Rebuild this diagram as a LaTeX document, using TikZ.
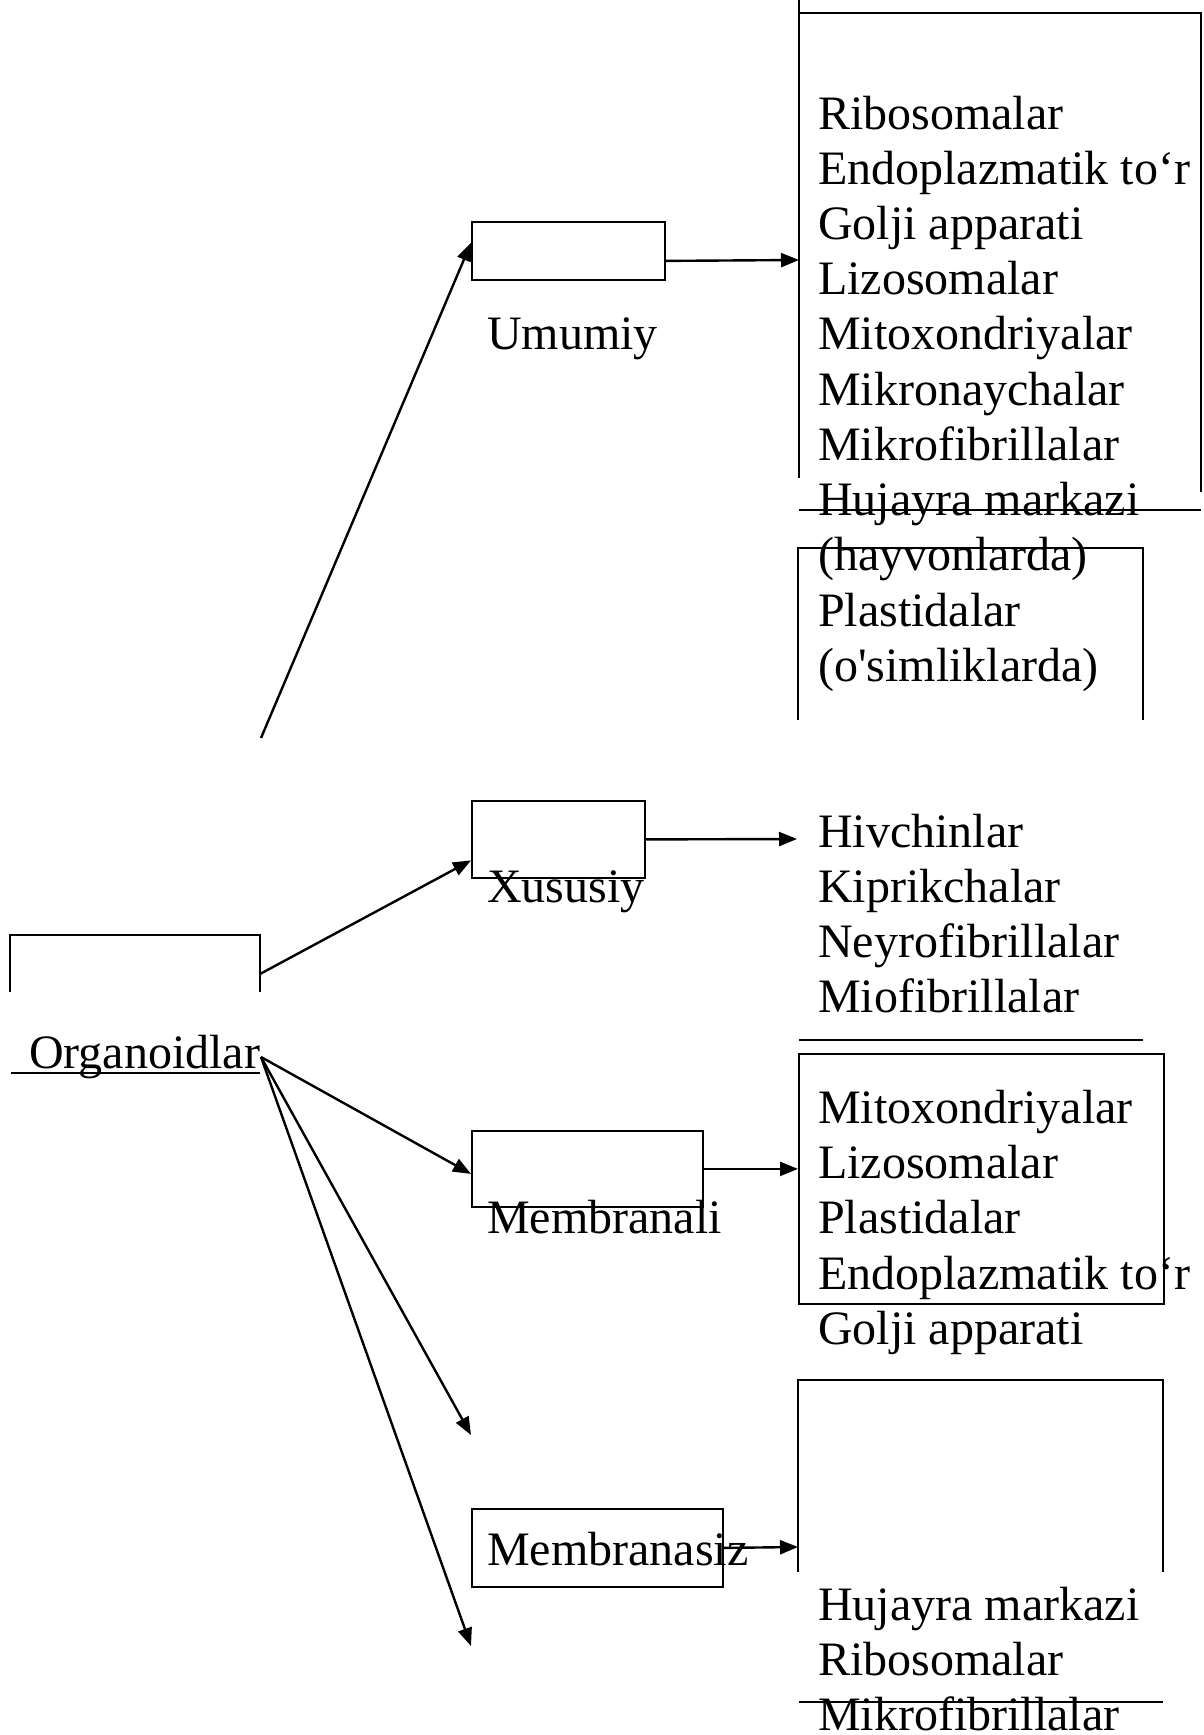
\documentclass[tikz,border=0pt]{standalone}
\usepackage{fontspec}
\newfontfamily\lib{Liberation Serif}
\usetikzlibrary{arrows.meta}
\begin{document}
\begin{tikzpicture}[x=1pt,y=-1pt,
  txt/.style={anchor=base west,inner sep=0pt,font=\lib\fontsize{48}{55}\selectfont},
  box/.style={draw,line width=1.8pt,inner sep=0pt,anchor=north west},
  ln/.style={line width=1.8pt},
  arr/.style={line width=2.4pt,-{Triangle[length=18pt,width=14pt]}}]
\useasboundingbox (0,0) rectangle (1204,1735);
\def\bl#1{129+#1*55.24}
% boxes
\node[box,minimum width=193pt,minimum height=58pt] (umumiy) at (471,221) {};
\node[box,minimum width=173pt,minimum height=77pt] (xususiy) at (471,800) {};
\node[box,minimum width=231pt,minimum height=76pt] (membranali) at (471,1130) {};
\node[box,minimum width=251pt,minimum height=78pt] (membranasiz) at (471,1508) {};
\node[box,minimum width=365pt,minimum height=250pt] (mlist) at (798,1053) {};
% open frames and lines
\draw[ln] (799,0) -- (799,478);
\draw[ln] (799,13) -- (1201,13) -- (1201,492);
\draw[ln] (799,510) -- (1201,510);
\draw[ln] (798,720) -- (798,548) -- (1143,548) -- (1143,720);
\draw[ln] (799,1040) -- (1143,1040);
\draw[ln] (10,992) -- (10,935) -- (260,935) -- (260,992);
\draw[ln] (11,1073) -- (260,1073);
\draw[ln] (798,1572) -- (798,1380) -- (1163,1380) -- (1163,1572);
\draw[ln] (799,1702) -- (1163,1702);
% texts
\foreach \n/\t in {0/Ribosomalar,1/Endoplazmatik to‘r,2/Golji apparati,3/Lizosomalar,4/Mitoxondriyalar,5/Mikronaychalar,6/Mikrofibrillalar,7/Hujayra markazi,8/(hayvonlarda),9/Plastidalar,10/(o'simliklarda),13/Hivchinlar,14/Kiprikchalar,15/Neyrofibrillalar,16/Miofibrillalar,18/Mitoxondriyalar,19/Lizosomalar,20/Plastidalar,21/Endoplazmatik to‘r,22/Golji apparati,27/Hujayra markazi,28/Ribosomalar,29/Mikrofibrillalar}
  \node[txt] (t\n) at (818,{\bl{\n}}) {\t};
\node[txt] (lumumiy) at (487,{\bl{4}}) {Umumiy};
\node[txt] (lxususiy) at (487,{\bl{14}}) {Xususiy};
\node[txt] (lmembranali) at (487,{\bl{20}}) {Membranali};
\node[txt] (lmembranasiz) at (487,{\bl{26}}) {Membranasiz};
\node[txt] (organoidlar) at (29,{\bl{17}}) {Organoidlar};
% connector ends
\coordinate (u0) at (261,738);
\coordinate (orgtop) at (260,974);
\coordinate (org) at (261,1057);
\coordinate (ulist) at (799,260);
\coordinate (xlist) at (797,839);
\coordinate (elist) at (798,1547);
\coordinate (e1) at (471,1435);
\coordinate (e2) at (471,1646);
% arrows
\draw[arr] (u0) -- ([yshift=8pt]umumiy.west);
\draw[arr] ([yshift=-10pt]umumiy.east) -- (ulist);
\draw[arr] (orgtop) -- ([yshift=-21pt]xususiy.west);
\draw[arr] (xususiy.east) -- (xlist);
\draw[arr] (org) -- ([yshift=-5pt]membranali.west);
\draw[arr] (membranali.east) -- (membranali.east -| mlist.west);
\draw[arr] (org) -- (e1);
\draw[arr] (org) -- (e2);
\draw[arr] (membranasiz.east) -- (elist);
\end{tikzpicture}
\end{document}
